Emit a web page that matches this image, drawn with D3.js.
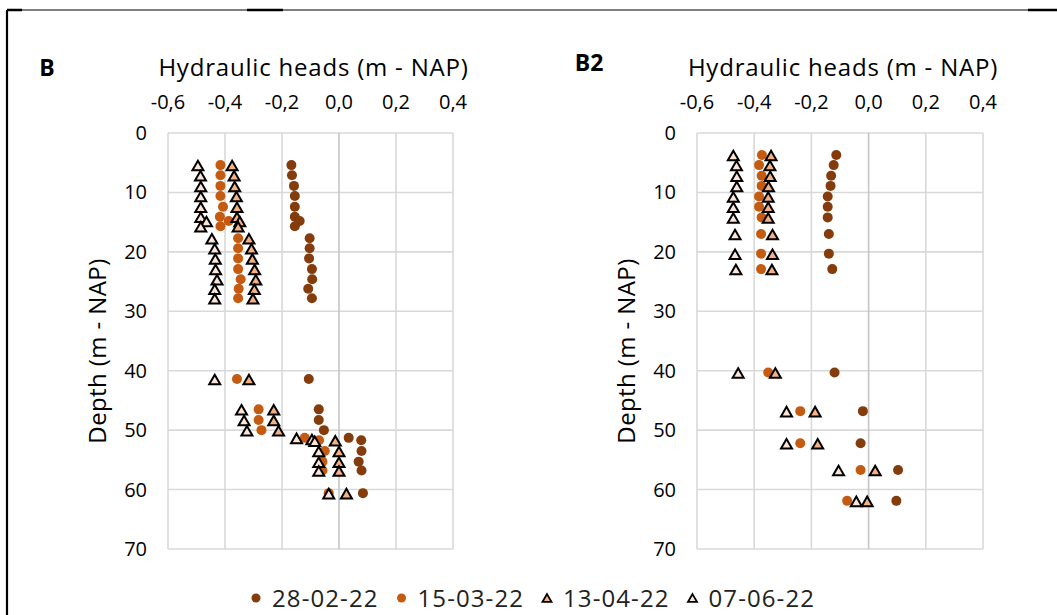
<!DOCTYPE html>
<html>
<head>
<meta charset="utf-8">
<script src="https://cdn.jsdelivr.net/npm/d3@7"></script>
<style>
  html, body { margin: 0; padding: 0; background: #fff; }
  svg { display: block; font-family: 'Open Sans', sans-serif; }
</style>
</head>
<body>
<div id="chart"></div>
<script>
  'use strict';

  var seriesNames = ['28-02-22', '15-03-22', '13-04-22', '07-06-22'];
  var headTicks = [-0.6, -0.4, -0.2, 0.0, 0.2, 0.4];
  var depthTicks = [0, 10, 20, 30, 40, 50, 60, 70];

  // panel B
  var bDepth1 = [5.4, 7.1, 8.9, 10.6, 12.4, 14.1, 14.8, 15.7, 17.7, 19.4, 21.1, 22.9, 24.6, 26.2, 27.8,
    41.4, 46.5, 48.3, 50.0, 51.3, 51.7, 53.5, 55.3, 56.8, 60.6];
  var bHead1 = [-0.167, -0.165, -0.158, -0.155, -0.155, -0.155, -0.138, -0.155, -0.103, -0.103, -0.105, -0.095, -0.094, -0.108, -0.095,
    -0.106, -0.071, -0.071, -0.053, 0.034, 0.078, 0.079, 0.069, 0.079, 0.084];
  var bDepth2 = [5.4, 7.1, 8.9, 10.6, 12.4, 14.1, 14.8, 15.7, 17.7, 19.4, 21.1, 22.9, 24.6, 26.2, 27.8,
    41.4, 46.5, 48.3, 50.0, 51.3, 51.7, 53.5, 55.3, 56.8, 60.6];
  var bHead2 = [-0.416, -0.416, -0.416, -0.416, -0.407, -0.418, -0.387, -0.416, -0.354, -0.354, -0.354, -0.354, -0.345, -0.352, -0.354,
    -0.358, -0.282, -0.282, -0.272, -0.120, -0.070, -0.050, -0.058, -0.058, -0.036];
  var bDepth3 = [5.4, 7.1, 8.9, 10.6, 12.4, 14.1, 14.8, 15.7, 17.7, 19.4, 21.1, 22.9, 24.6, 26.2, 27.8,
    41.4, 46.5, 48.3, 50.0, 51.7, 53.5, 55.3, 56.8, 60.6];
  var bHead3 = [-0.375, -0.368, -0.366, -0.360, -0.358, -0.358, -0.348, -0.354, -0.316, -0.307, -0.304, -0.296, -0.292, -0.297, -0.302,
    -0.316, -0.229, -0.229, -0.212, -0.013, 0.000, 0.000, 0.000, 0.026];
  var bDepth4 = [5.4, 7.1, 8.9, 10.6, 12.4, 14.1, 14.8, 15.7, 17.7, 19.4, 21.1, 22.9, 24.6, 26.2, 27.8,
    41.4, 46.5, 48.3, 50.0, 51.3, 51.5, 51.8, 53.5, 55.3, 56.8, 60.6];
  var bHead4 = [-0.495, -0.486, -0.485, -0.485, -0.485, -0.485, -0.465, -0.485, -0.446, -0.436, -0.434, -0.433, -0.428, -0.436, -0.436,
    -0.436, -0.342, -0.333, -0.323, -0.149, -0.095, -0.085, -0.071, -0.071, -0.071, -0.036];

  // panel B2
  var b2Depth = [3.7, 5.4, 7.2, 8.9, 10.7, 12.4, 14.2, 17.0, 20.3, 22.9, 40.3, 46.8, 52.2, 56.7, 61.9];
  var b2Head1 = [-0.113, -0.122, -0.131, -0.133, -0.143, -0.143, -0.143, -0.139, -0.139, -0.127, -0.119, -0.020, -0.028, 0.103, 0.097];
  var b2Head2 = [-0.373, -0.383, -0.374, -0.374, -0.383, -0.383, -0.374, -0.376, -0.376, -0.376, -0.351, -0.239, -0.239, -0.028, -0.075];
  var b2Head3 = [-0.341, -0.345, -0.344, -0.350, -0.351, -0.351, -0.351, -0.336, -0.336, -0.338, -0.326, -0.187, -0.178, 0.023, -0.005];
  var b2Head4 = [-0.473, -0.462, -0.461, -0.461, -0.473, -0.473, -0.473, -0.467, -0.467, -0.464, -0.456, -0.287, -0.287, -0.105, -0.043];

  var colors = ['#843C0C', '#C55A11', '#F4B183', '#FBE5D6'];
  var shapes = ['circle', 'circle', 'triangle', 'triangle'];

  var width = 1057, height = 615;
  var svg = d3.select('#chart').append('svg')
    .attr('width', width)
    .attr('height', height);

  // outer frame (only top and left edges visible)
  svg.append('line').attr('x1', 7).attr('y1', 10).attr('x2', width).attr('y2', 10)
    .attr('stroke', '#000').attr('stroke-width', 1.2);
  svg.append('line').attr('x1', 7).attr('y1', 10).attr('x2', 7).attr('y2', height)
    .attr('stroke', '#000').attr('stroke-width', 2.2);
  [[7, 22], [247, 283], [1028, 1057]].forEach(function(s) {
    svg.append('line').attr('x1', s[0]).attr('x2', s[1]).attr('y1', 10).attr('y2', 10)
      .attr('stroke', '#000').attr('stroke-width', 2.5);
  });

  function triPath(size) {
    var h = size * Math.sqrt(3) / 2;
    return 'M0,' + (-h / 2) + 'L' + (size / 2) + ',' + (h / 2) + 'L' + (-size / 2) + ',' + (h / 2) + 'Z';
  }

  function drawMarker(g, shape, color, x, y) {
    if (shape === 'circle') {
      g.append('circle').attr('cx', x).attr('cy', y).attr('r', 5)
        .attr('fill', color);
    } else {
      g.append('path').attr('d', triPath(11))
        .attr('transform', 'translate(' + x + ',' + (y + 0.5) + ')')
        .attr('fill', color)
        .attr('stroke', '#000')
        .attr('stroke-width', 2)
        .attr('stroke-linejoin', 'miter');
    }
  }

  function drawPanel(opts) {
    var x = d3.scaleLinear().domain([-0.6, 0.4]).range([opts.left, opts.right]);
    var y = d3.scaleLinear().domain([0, 70]).range([133, 549]);
    var g = svg.append('g');

    // grid
    g.append('g').selectAll('line').data(depthTicks).enter().append('line')
      .attr('x1', opts.left).attr('x2', opts.right)
      .attr('y1', function(d) { return y(d); }).attr('y2', function(d) { return y(d); })
      .attr('stroke', '#D9D9D9').attr('stroke-width', 1.6);
    g.append('g').selectAll('line').data(headTicks).enter().append('line')
      .attr('y1', 133).attr('y2', 549)
      .attr('x1', function(d) { return x(d); }).attr('x2', function(d) { return x(d); })
      .attr('stroke', function(d) { return d === 0 ? '#C6C6C6' : '#D9D9D9'; })
      .attr('stroke-width', 1.6);

    // tick labels
    g.append('g').selectAll('text').data(headTicks).enter().append('text')
      .attr('x', function(d) { return x(d); })
      .attr('y', 109)
      .attr('text-anchor', 'middle')
      .attr('font-size', 20)
      .attr('fill', '#000')
      .text(function(d) { return d3.format('.1f')(d).replace('.', ',').replace('−', '-'); });
    g.append('g').selectAll('text').data(depthTicks).enter().append('text')
      .attr('x', opts.left - 21)
      .attr('y', function(d) { return y(d) + 7; })
      .attr('text-anchor', 'end')
      .attr('font-size', 20)
      .attr('fill', '#000')
      .text(function(d) { return d; });

    // titles
    g.append('text').attr('x', (opts.left + opts.right) / 2 + 3).attr('y', 76)
      .attr('text-anchor', 'middle').attr('font-size', 24).attr('letter-spacing', 0.8)
      .attr('fill', '#000')
      .text('Hydraulic heads (m - NAP)');
    g.append('text')
      .attr('transform', 'translate(' + (opts.left - 62) + ',' + 351 + ') rotate(-90)')
      .attr('text-anchor', 'middle').attr('font-size', 24).attr('letter-spacing', 0.4)
      .attr('fill', '#000')
      .text('Depth (m - NAP)');
    g.append('text').attr('x', opts.tagX).attr('y', opts.tagY)
      .attr('text-anchor', 'middle').attr('font-size', 23).attr('font-weight', 'bold')
      .attr('fill', '#000')
      .text(opts.tag);

    // points, drawn series by series
    opts.series.forEach(function(s, i) {
      var sg = g.append('g');
      s.depth.forEach(function(dv, k) {
        drawMarker(sg, shapes[i], colors[i], x(s.head[k]), y(dv));
      });
    });
  }

  drawPanel({
    left: 168, right: 453, tag: 'B', tagX: 47, tagY: 76,
    series: [
      { depth: bDepth1, head: bHead1 },
      { depth: bDepth2, head: bHead2 },
      { depth: bDepth3, head: bHead3 },
      { depth: bDepth4, head: bHead4 }
    ]
  });
  drawPanel({
    left: 697, right: 983, tag: 'B2', tagX: 589, tagY: 71,
    series: [
      { depth: b2Depth, head: b2Head1 },
      { depth: b2Depth, head: b2Head2 },
      { depth: b2Depth, head: b2Head3 },
      { depth: b2Depth, head: b2Head4 }
    ]
  });

  // legend
  var legend = svg.append('g');
  seriesNames.forEach(function(name, i) {
    var lx = 256 + i * 145.5;
    if (shapes[i] === 'circle') {
      legend.append('circle').attr('cx', lx).attr('cy', 598).attr('r', 4.5).attr('fill', colors[i]);
    } else {
      legend.append('path').attr('d', triPath(9))
        .attr('transform', 'translate(' + lx + ',598)')
        .attr('fill', colors[i]).attr('stroke', '#000').attr('stroke-width', 1.8);
    }
    legend.append('text').attr('x', lx + 16).attr('y', 607)
      .attr('font-size', 24).attr('letter-spacing', 1.1).attr('fill', '#222')
      .text(name);
  });
</script>
</body>
</html>
